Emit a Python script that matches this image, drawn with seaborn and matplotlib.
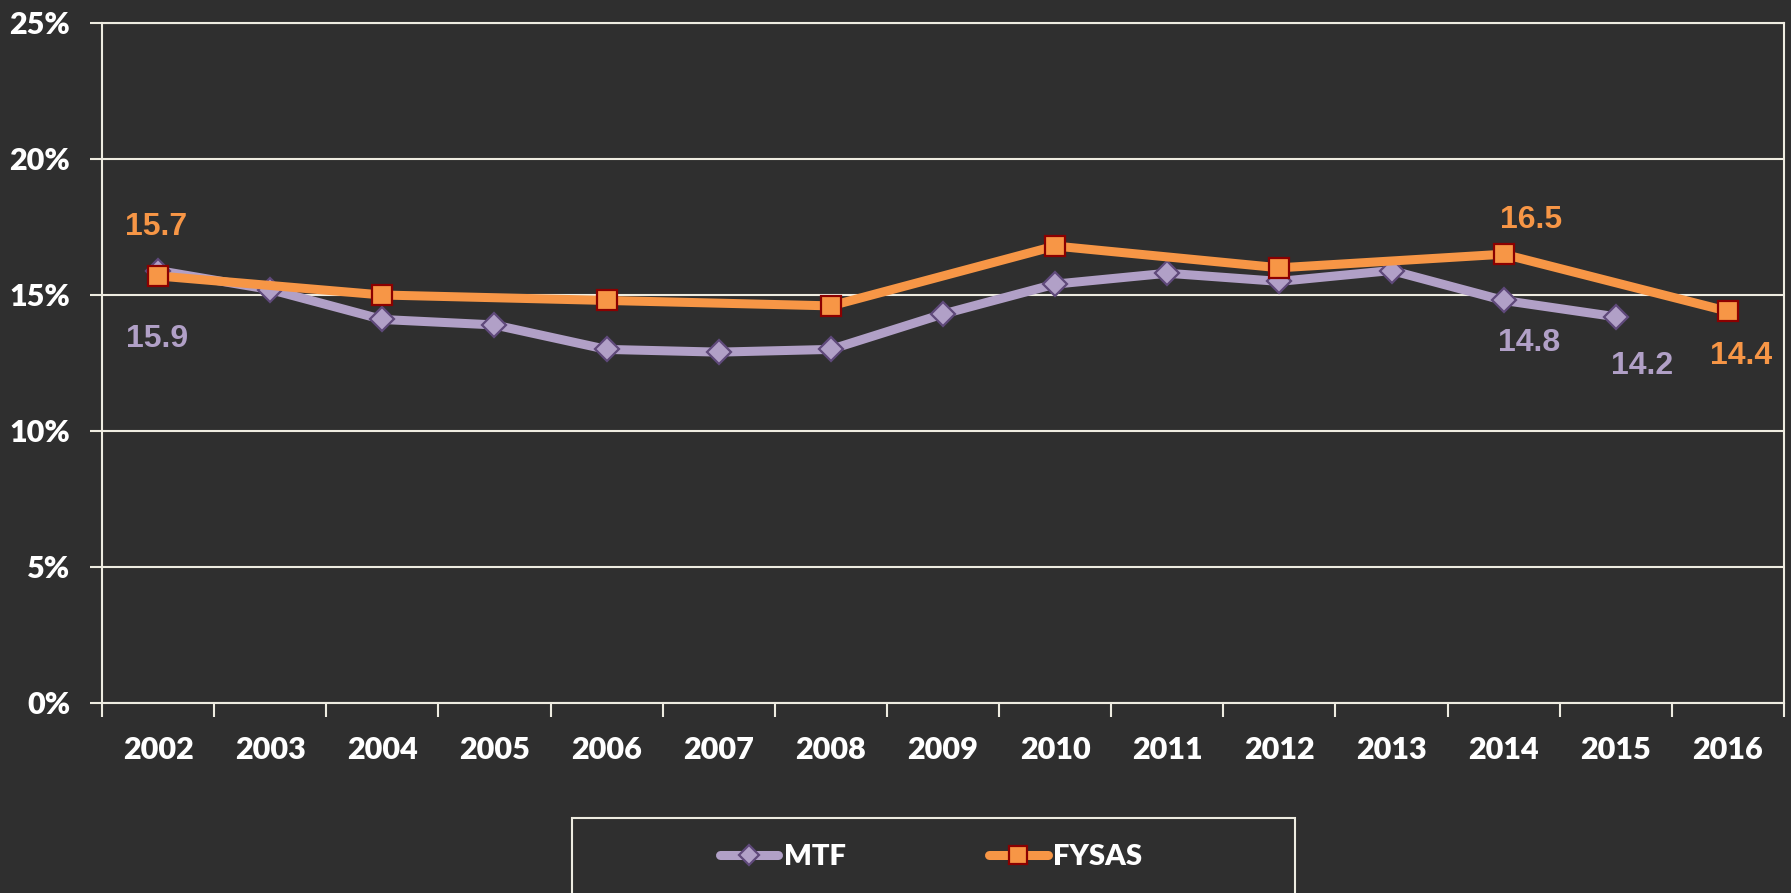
import numpy as np
import pandas as pd
import matplotlib
matplotlib.use("Agg")
import matplotlib.pyplot as plt
from matplotlib.patches import Rectangle
from matplotlib.ticker import FuncFormatter, FixedLocator
import seaborn as sns

# data (percent)
years = list(range(2002, 2017))
mtf = [15.9, 15.2, 14.1, 13.9, 13.0, 12.9, 13.0, 14.3, 15.4, 15.8, 15.5, 15.9, 14.8, 14.2, np.nan]
fysas = [15.7, np.nan, 15.0, np.nan, 14.8, np.nan, 14.6, np.nan, 16.8, np.nan, 16.0, np.nan, 16.5, np.nan, 14.4]
series_names = ['MTF', 'FYSAS']
y_ticks = [0, 5, 10, 15, 20, 25]

# points that carry a value label
labelled = {'MTF': [2002, 2014, 2015], 'FYSAS': [2002, 2014, 2016]}

# label offsets in pixels (dx, dy)
label_offsets = {
    ('MTF', 2002): (-1, -68), ('MTF', 2014): (25, -43), ('MTF', 2015): (26, -49),
    ('FYSAS', 2002): (-2, 49), ('FYSAS', 2014): (27, 34), ('FYSAS', 2016): (13, -45),
}

BG = '#2f2f2f'
CREAM = '#eeece1'
styles = {
    'MTF': dict(color='#b1a0c7', marker='D', markersize=12.5, markeredgecolor='#5f497a'),
    'FYSAS': dict(color='#f79646', marker='s', markersize=15, markeredgecolor='#8b0000'),
}

df = pd.DataFrame({'Year': years, 'MTF': mtf, 'FYSAS': fysas})
long_df = df.melt(id_vars='Year', var_name='Series', value_name='Value').dropna()

sns.set_style('dark', rc={'axes.facecolor': BG, 'figure.facecolor': BG})
plt.rcParams['font.family'] = ['Lato', 'DejaVu Sans']

fig = plt.figure(figsize=(17.91, 8.93), dpi=100)
ax = fig.add_axes([102 / 1791, 1 - 703 / 893, 1682 / 1791, 680 / 893])
ax.set_facecolor(BG)

for name in series_names:
    sub = long_df[long_df['Series'] == name]
    sns.lineplot(data=sub, x='Year', y='Value', ax=ax, label=name, linewidth=6.5,
                 markeredgewidth=1.6, sort=True, **styles[name])
    for yr in labelled[name]:
        val = sub.loc[sub['Year'] == yr, 'Value'].iloc[0]
        dx, dy = label_offsets[(name, yr)]
        ax.annotate(f'{val:.1f}', xy=(yr, val), xytext=(dx, dy), textcoords='offset pixels',
                    ha='center', va='center', fontsize=23, fontweight='bold',
                    color=styles[name]['color'], family=['Liberation Sans', 'DejaVu Sans'])

ax.set_xlim(years[0] - 0.5, years[-1] + 0.5)
ax.set_ylim(y_ticks[0], y_ticks[-1])
ax.set_xlabel('')
ax.set_ylabel('')

ax.xaxis.set_major_locator(FixedLocator(years))
ax.xaxis.set_minor_locator(FixedLocator([y - 0.5 for y in years] + [years[-1] + 0.5]))
ax.set_xticklabels([str(y) for y in years])
ax.set_yticks(y_ticks)
ax.yaxis.set_major_formatter(FuncFormatter(lambda v, p: f'{v:.0f}%'))

ax.tick_params(axis='x', which='major', length=0, pad=24, labelsize=22, labelcolor='white')
ax.tick_params(axis='x', which='minor', length=10, width=1.5, color=CREAM, direction='out', bottom=True)
ax.tick_params(axis='y', length=9, width=1.5, color=CREAM, direction='out', left=True,
               pad=14, labelsize=22, labelcolor='white')
for lab in ax.get_xticklabels() + ax.get_yticklabels():
    lab.set_fontweight('heavy')

ax.grid(False)
ax.yaxis.grid(True, color=CREAM, linewidth=1.5)
for side in ['left', 'bottom', 'right', 'top']:
    ax.spines[side].set_visible(True)
    ax.spines[side].set_color(CREAM)
    ax.spines[side].set_linewidth(1.5)

handles, labels = ax.get_legend_handles_labels()
ax.get_legend().remove()
leg = fig.legend(handles, labels, loc='center', bbox_to_anchor=(0.520, 1 - 857 / 893),
                 ncol=2, frameon=False, handlelength=2.0, handletextpad=0.2,
                 columnspacing=4.9, labelcolor='white', prop={'weight': 'heavy', 'size': 21})
for h, name in zip(leg.legend_handles, labels):
    h.set_markersize(styles[name]['markersize'] * 0.85)

fig.add_artist(Rectangle((572 / 1791, -0.05), 723 / 1791, 0.05 + 1 - 818 / 893,
                         transform=fig.transFigure, facecolor='none', edgecolor=CREAM, linewidth=1.5))

fig.savefig('out.png', dpi=100, facecolor=BG)
